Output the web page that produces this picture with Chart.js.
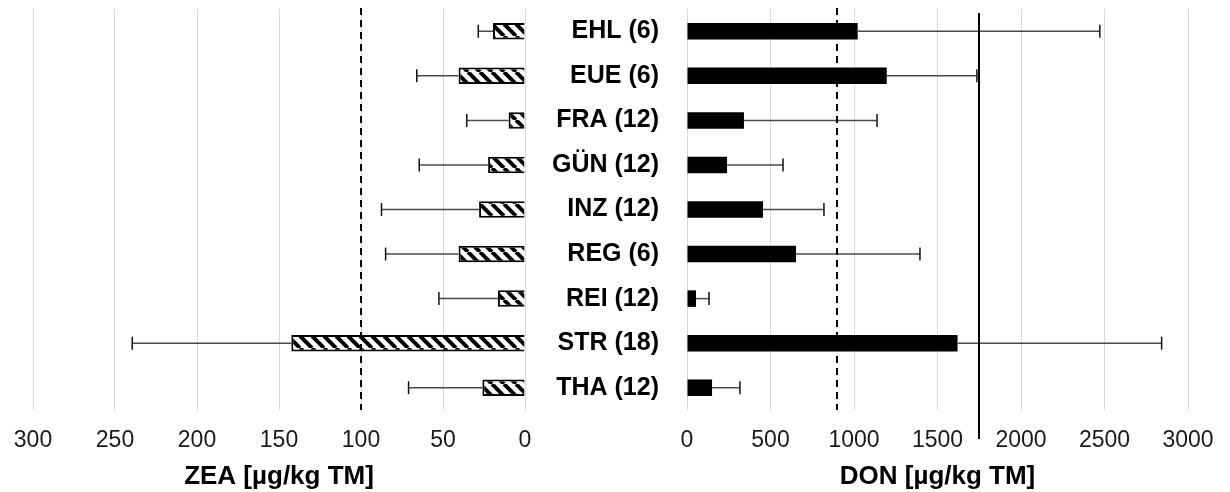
<!DOCTYPE html>
<html>
<head>
<meta charset="utf-8">
<title>ZEA / DON</title>
<script src="https://cdn.jsdelivr.net/npm/chart.js@4/dist/chart.umd.min.js"></script>
<style>
  html, body { margin: 0; padding: 0; background: #fff; }
  #wrap { position: relative; width: 1230px; height: 492px; }
  #wrap canvas { position: absolute; left: 0; top: 0; }
</style>
</head>
<body>
<div id="wrap">
  <canvas id="zeaChart" width="1230" height="492"></canvas>
  <canvas id="donChart" width="1230" height="492"></canvas>
</div>
<script>
// data
const categories = ['EHL (6)', 'EUE (6)', 'FRA (12)', 'GÜN (12)', 'INZ (12)', 'REG (6)', 'REI (12)', 'STR (18)', 'THA (12)'];
const zeaMean = [19.5, 40.5, 10, 22.5, 28, 40.5, 16.5, 142.5, 26];
const zeaSd = [9, 25.5, 25.5, 42, 59.5, 44.5, 36, 97, 45];
const donMean = [1022, 1196, 341, 240, 455, 653, 54, 1620, 150];
const donSd = [1450, 540, 797, 335, 365, 742, 78, 1222, 167];
const zeaTicks = [0, 50, 100, 150, 200, 250, 300];
const donTicks = [0, 500, 1000, 1500, 2000, 2500, 3000];
const zeaLimit = 100;
const donLimitDashed = 900;
const donLimitSolid = 1750;

const FONT = '"Liberation Sans", Arial, sans-serif';

// white bar with black "\" stripes
function hatchPattern() {
  const c = document.createElement('canvas');
  c.width = 12; c.height = 12;
  const g = c.getContext('2d');
  g.fillStyle = '#fff';
  g.fillRect(0, 0, 12, 12);
  g.strokeStyle = '#000';
  g.lineWidth = 4;
  g.beginPath();
  [-12, 0, 12].forEach(o => { g.moveTo(o, 0); g.lineTo(o + 12, 12); });
  g.stroke();
  return g.createPattern(c, 'repeat');
}

// error bars + reference lines
const extrasPlugin = {
  id: 'extras',
  afterDatasetsDraw(chart, args, opts) {
    const ctx = chart.ctx;
    const xs = chart.scales.x;
    const area = chart.chartArea;
    const meta = chart.getDatasetMeta(0);
    const vals = chart.data.datasets[0].data;
    ctx.save();
    meta.data.forEach((bar, i) => {
      const end = xs.getPixelForValue(vals[i] + opts.sd[i]);
      ctx.strokeStyle = '#4a4a4a';
      ctx.lineWidth = 1.5;
      ctx.beginPath();
      ctx.moveTo(bar.x, bar.y);
      ctx.lineTo(end, bar.y);
      ctx.stroke();
      ctx.strokeStyle = '#111';
      ctx.beginPath();
      ctx.moveTo(end, bar.y - 6.5);
      ctx.lineTo(end, bar.y + 6.5);
      ctx.stroke();
    });
    (opts.lines || []).forEach(l => {
      const px = Math.round(xs.getPixelForValue(l.value));
      ctx.strokeStyle = '#000';
      ctx.lineWidth = 2;
      ctx.setLineDash(l.dash || []);
      ctx.beginPath();
      ctx.moveTo(px, area.top + (l.top || 0));
      ctx.lineTo(px, area.bottom + (l.bottom || 0));
      ctx.stroke();
    });
    ctx.restore();
  }
};

function xAxis(max, ticks, title, reverse) {
  return {
    type: 'linear',
    min: 0,
    max: max,
    reverse: reverse,
    afterBuildTicks: s => { s.ticks = ticks.map(v => ({ value: v })); },
    afterFit: s => { s.height = 82; s.paddingLeft = 0; s.paddingRight = 0; },
    grid: { color: '#d9d9d9', lineWidth: 1, drawTicks: false },
    border: { display: false },
    ticks: {
      color: '#1a1a1a',
      padding: 17,
      font: { family: FONT, size: 23 },
      callback: v => String(v)
    },
    title: {
      display: true,
      text: title,
      color: '#000',
      padding: { top: 0, bottom: 0 },
      font: { family: FONT, size: 26, weight: 'bold', lineHeight: 1.2 }
    }
  };
}

window.addEventListener('load', function () {
  // ZEA (left, reversed)
  new Chart(document.getElementById('zeaChart'), {
    type: 'bar',
    data: {
      labels: categories,
      datasets: [{
        data: zeaMean,
        backgroundColor: hatchPattern(),
        borderColor: '#000',
        borderWidth: 2,
        barPercentage: 0.37,
        categoryPercentage: 1
      }]
    },
    plugins: [extrasPlugin],
    options: {
      indexAxis: 'y',
      responsive: false,
      animation: false,
      layout: { padding: { left: 33, right: 705, top: 9, bottom: 0 } },
      plugins: {
        legend: { display: false },
        tooltip: { enabled: false },
        extras: { sd: zeaSd, lines: [{ value: zeaLimit, dash: [7, 5], top: -1 }] }
      },
      scales: {
        x: xAxis(300, zeaTicks, 'ZEA [µg/kg TM]', true),
        y: { display: false }
      }
    }
  });

  // DON (right)
  new Chart(document.getElementById('donChart'), {
    type: 'bar',
    data: {
      labels: categories,
      datasets: [{
        data: donMean,
        backgroundColor: '#000',
        borderColor: '#000',
        borderWidth: 0,
        barPercentage: 0.37,
        categoryPercentage: 1
      }]
    },
    plugins: [extrasPlugin],
    options: {
      indexAxis: 'y',
      responsive: false,
      animation: false,
      layout: { padding: { left: 540, right: 42, top: 9, bottom: 0 } },
      plugins: {
        legend: { display: false },
        tooltip: { enabled: false },
        extras: {
          sd: donSd,
          lines: [
            { value: donLimitDashed, dash: [7, 5], top: -1 },
            { value: donLimitSolid, top: 4, bottom: 29 }
          ]
        }
      },
      scales: {
        x: xAxis(3000, donTicks, 'DON [µg/kg TM]', false),
        y: {
          afterFit: s => { s.width = 147; s.paddingTop = 0; s.paddingBottom = 0; },
          grid: { display: false },
          border: { display: false },
          ticks: { color: '#000', padding: 20, font: { family: FONT, size: 25, weight: 'bold' } }
        }
      }
    }
  });
});
</script>
</body>
</html>
